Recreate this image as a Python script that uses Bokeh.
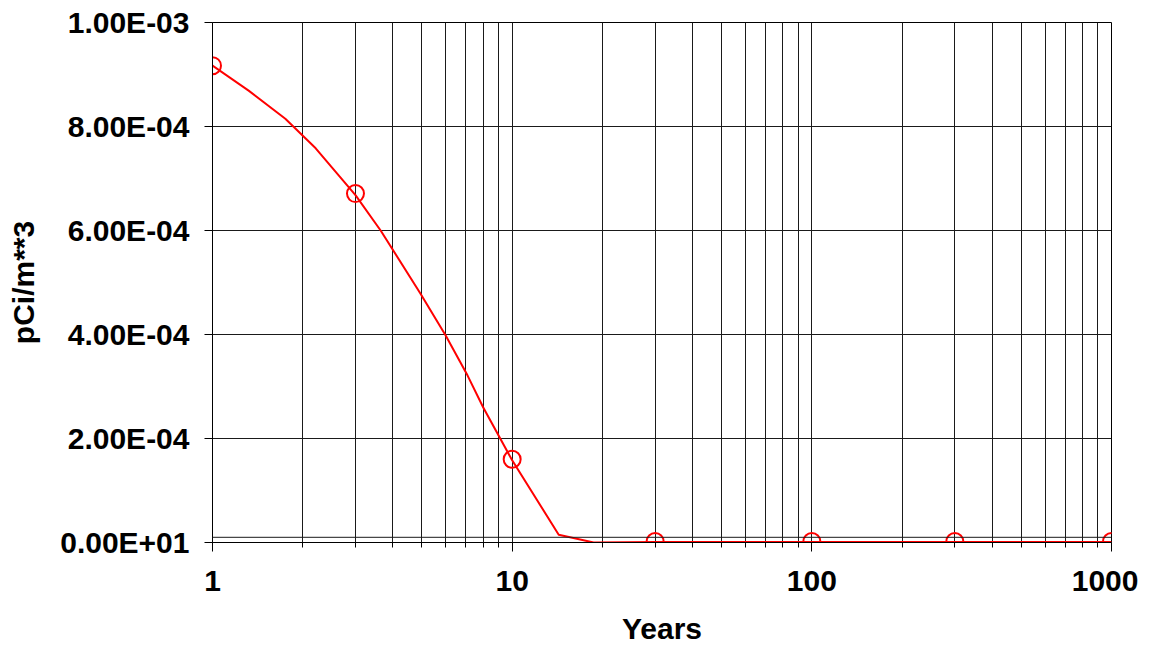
from bokeh.plotting import figure
from bokeh.models import Range1d, FixedTicker, CustomJSTickFormatter, Span
from bokeh.embed import file_html
from bokeh.resources import INLINE

# ---- data ----
years_curve = [1, 1.32, 1.75, 2.21, 3, 3.64, 4.94, 6.0, 7.1, 8.0, 10, 14.3, 18.7, 30, 100, 300, 1000]
conc_curve = [9.17e-4, 8.69e-4, 8.15e-4, 7.58e-4, 6.68e-4, 6.00e-4, 4.79e-4, 3.98e-4,
              3.21e-4, 2.60e-4, 1.58e-4, 1.5e-5, 0.0, 1e-6, 1e-6, 1e-6, 1e-6]

years_marks = [1, 3, 10, 30, 100, 300, 1000]
conc_marks = [9.17e-4, 6.71e-4, 1.60e-4, 2e-6, 2e-6, 2e-6, 2e-6]

x_major = [1, 10, 100, 1000]
x_minor = [2, 3, 4, 5, 6, 7, 8, 9, 20, 30, 40, 50, 60, 70, 80, 90,
           200, 300, 400, 500, 600, 700, 800, 900]
x_labels = ["1", "10", "100", "1000"]

y_ticks = [0.0, 2e-4, 4e-4, 6e-4, 8e-4, 1e-3]
y_labels = ["0.00E+01", "2.00E-04", "4.00E-04", "6.00E-04", "8.00E-04", "1.00E-03"]

extra_hlines = [1e-5]

x_title = "Years"
y_title = "pCi/m**3"

# ---- styling ----
FONT = "Liberation Sans"
GRID = "#1a1a1a"
W, H = 1138, 647
BL, BT, BR, BB = 212, 22, 27, 105

p = figure(width=W, height=H, x_axis_type="log",
           x_range=Range1d(1, 1000), y_range=Range1d(0, 1e-3),
           output_backend="svg", toolbar_location=None, title=None,
           min_border_left=BL, min_border_top=BT, min_border_right=BR,
           min_border_bottom=BB)

p.background_fill_color = "white"
p.border_fill_color = "white"
p.outline_line_color = "black"
p.outline_line_width = 1

xt = FixedTicker(ticks=x_major, minor_ticks=x_minor)
yt = FixedTicker(ticks=y_ticks, minor_ticks=[])
p.xaxis.ticker = xt
p.yaxis.ticker = yt
p.xgrid.ticker = xt
p.ygrid.ticker = yt

p.xaxis.formatter = CustomJSTickFormatter(
    args=dict(v=x_major, l=x_labels),
    code="const i = v.findIndex(a => Math.abs(Math.log10(a) - Math.log10(tick)) < 1e-6); return i < 0 ? '' : l[i];")
p.yaxis.formatter = CustomJSTickFormatter(
    args=dict(v=y_ticks, l=y_labels),
    code="const i = v.findIndex(a => Math.abs(a - tick) < 1e-9); return i < 0 ? '' : l[i];")

for ax in (p.xaxis[0], p.yaxis[0]):
    ax.axis_line_color = "black"
    ax.axis_line_width = 1
    ax.major_tick_line_color = "black"
    ax.minor_tick_line_color = "black"
    ax.major_tick_in = 0
    ax.minor_tick_in = 0
    ax.major_label_text_font = FONT
    ax.major_label_text_font_style = "bold"
    ax.major_label_text_font_size = "30px"
    ax.major_label_text_color = "black"
    ax.axis_label_text_font = FONT
    ax.axis_label_text_font_style = "bold"
    ax.axis_label_text_font_size = "30px"
    ax.axis_label_text_color = "black"

p.xaxis.major_tick_out = 9
p.xaxis.minor_tick_out = 5
p.xaxis.major_label_standoff = 19
p.xaxis.axis_label = x_title
p.xaxis.axis_label_standoff = 18

p.yaxis.major_tick_out = 8
p.yaxis.minor_tick_out = 0
p.yaxis.major_label_standoff = 15
p.yaxis.axis_label = y_title
p.yaxis.axis_label_standoff = 17

p.xgrid.grid_line_color = GRID
p.xgrid.grid_line_width = 1
p.xgrid.minor_grid_line_color = GRID
p.xgrid.minor_grid_line_width = 1
p.ygrid.grid_line_color = GRID
p.ygrid.grid_line_width = 1

for loc in extra_hlines:
    p.add_layout(Span(location=loc, dimension="width", line_color=GRID, line_width=1))

p.line(years_curve, conc_curve, line_color="red", line_width=2)
p.scatter(years_marks, conc_marks, marker="circle", size=17,
          fill_color=None, line_color="red", line_width=2)

open("out.html", "w").write(file_html(p, INLINE))
